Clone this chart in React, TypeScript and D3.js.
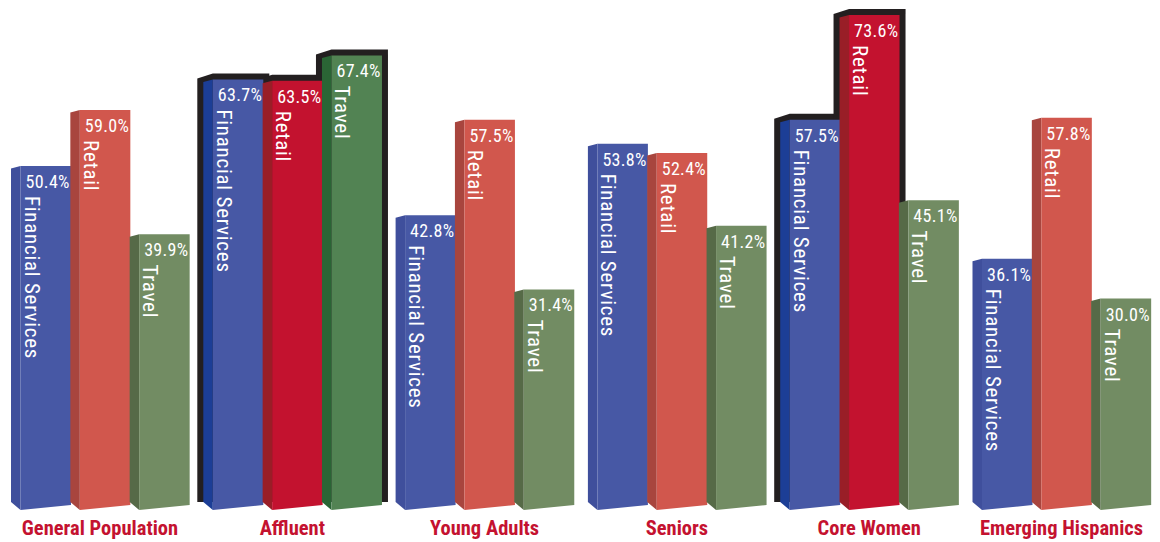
import React from "react";
import * as d3 from "d3";

const categories = ["General Population", "Affluent", "Young Adults", "Seniors", "Core Women", "Emerging Hispanics"];
const seriesNames = ["Financial Services", "Retail", "Travel"];
const financialServices = [50.4, 63.7, 42.8, 53.8, 57.5, 36.1];
const retail = [59.0, 63.5, 57.5, 52.4, 73.6, 57.8];
const travel = [39.9, 67.4, 31.4, 41.2, 45.1, 30.0];
const highlighted = [
  "Affluent|Financial Services",
  "Affluent|Retail",
  "Affluent|Travel",
  "Core Women|Financial Services",
  "Core Women|Retail",
];

const W = 1160;
const H = 542;
const SIDE = 9.5;
const FRONT = 50.5;
const BASE = 505;
const FONT = "'Liberation Sans Narrow', 'Arial Narrow', 'Roboto Condensed', Roboto, sans-serif";

const colors: Record<string, { front: string; side: string; hFront: string; hSide: string }> = {
  "Financial Services": { front: "#4758a5", side: "#3f4f9c", hFront: "#4758a5", hSide: "#1c3e96" },
  Retail: { front: "#d1574d", side: "#a8453e", hFront: "#c3122f", hSide: "#991e27" },
  Travel: { front: "#728c63", side: "#566a47", hFront: "#528353", hSide: "#2a6535" },
};

const valuesBySeries: Record<string, number[]> = {
  "Financial Services": financialServices,
  Retail: retail,
  Travel: travel,
};

type Bar = { cat: string; series: string; value: number; hl: boolean; sL: number; fL: number; fR: number; fT: number };

export default function App() {
  const x0 = d3.scaleBand<string>().domain(categories).range([11, 11 + 6 * 192.3]).padding(0);
  const x1 = d3.scaleBand<string>().domain(seriesNames).range([0, 178]).padding(0);
  const y = d3.scaleLinear().domain([0, 75]).range([493.5, 493.5 - 75 * 6.5]);

  const bars: Bar[] = [];
  categories.forEach((cat, i) => {
    seriesNames.forEach((s) => {
      const v = valuesBySeries[s][i];
      const sL = (x0(cat) as number) + (x1(s) as number);
      const fL = sL + SIDE;
      bars.push({ cat, series: s, value: v, hl: highlighted.includes(cat + "|" + s), sL, fL, fR: fL + FRONT, fT: y(v) });
    });
  });

  const line = d3.line<[number, number]>();

  return (
    <svg width={W} height={H} style={{ position: "absolute", left: 0, top: 0, background: "#fff" }}>
      <g>
        {bars
          .filter((b) => b.hl)
          .map((b, i) => (
            <path
              key={"o" + i}
              fill="#231f20"
              d={
                line([
                  [b.sL - 6, b.fT - 1],
                  [b.fL, b.fT - 6],
                  [b.fR + 6, b.fT - 6],
                  [b.fR + 6, BASE - 3],
                  [b.sL - 6, BASE - 3],
                ]) + "Z"
              }
            />
          ))}
      </g>
      <g>
        {bars.map((b, i) => {
          const c = colors[b.series];
          return (
            <g key={"b" + i}>
              <path
                fill={b.hl ? c.hSide : c.side}
                d={
                  line([
                    [b.sL, b.fT + 2.5],
                    [b.fL, b.fT],
                    [b.fL, BASE + 5],
                    [b.sL, BASE - 3],
                  ]) + "Z"
                }
              />
              <path
                fill={b.hl ? c.hFront : c.front}
                d={
                  line([
                    [b.fL, b.fT],
                    [b.fR, b.fT],
                    [b.fR, BASE],
                    [b.fL, BASE + 5],
                  ]) + "Z"
                }
              />
              <text x={b.fL + 5} y={b.fT + 22} fill="#fff" fontFamily={FONT} fontSize={18} letterSpacing={0.3}>
                {d3.format(".1f")(b.value) + "%"}
              </text>
              <text
                transform={`translate(${b.fL + 4},${b.fT + 30}) rotate(90)`}
                fill="#fff"
                fontFamily={FONT}
                fontSize={21}
                letterSpacing={0.75}
              >
                {b.series}
              </text>
            </g>
          );
        })}
      </g>
      <g>
        {categories.map((cat) => (
          <text
            key={cat}
            x={(x0(cat) as number) + 89}
            y={535}
            textAnchor="middle"
            fill="#c41230"
            fontFamily={FONT}
            fontWeight="bold"
            fontSize={20.5}
          >
            {cat}
          </text>
        ))}
      </g>
    </svg>
  );
}
